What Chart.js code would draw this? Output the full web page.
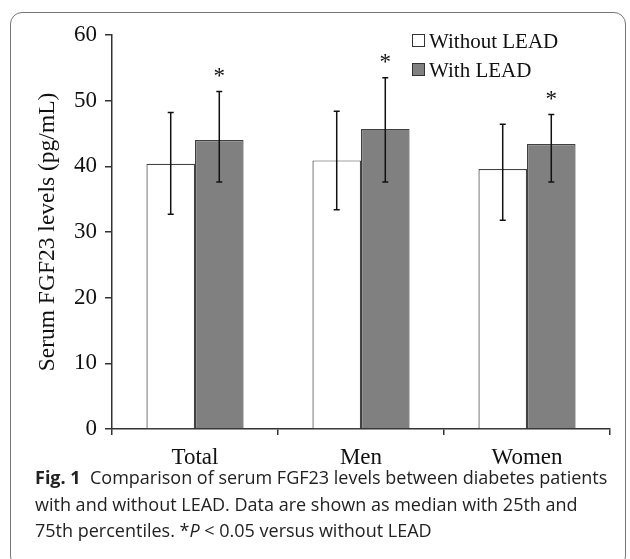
<!DOCTYPE html>
<html>
<head>
<meta charset="utf-8">
<script src="https://cdn.jsdelivr.net/npm/chart.js@4.4.1/dist/chart.umd.min.js"></script>
<style>
  body { margin: 0; background: #fff; }
  #wrap { position: relative; width: 630px; height: 559px; overflow: hidden; }
  #frame { position: absolute; left: 10px; top: 12px; width: 616px; height: 556px; border: 1.5px solid #777; border-radius: 12px; box-sizing: border-box; }
  #chartBox { position: absolute; left: 0; top: 0; width: 630px; height: 470px; }
  .legend { position: absolute; left: 412px; font-family: "Liberation Serif", serif; font-size: 21px; color: #111; }
  .legend span.box { display: inline-block; width: 11px; height: 11px; border: 1px solid #333; margin-right: 4px; vertical-align: 1px; }
  #caption { position: absolute; left: 35px; top: 464px; font-family: "Open Sans", sans-serif; font-size: 18px; line-height: 26.5px; color: #222; }
</style>
</head>
<body>
<div id="wrap">
  <div id="frame"></div>
  <div id="chartBox"><canvas id="myChart" width="630" height="470"></canvas></div>
  <div class="legend" style="top:29px"><span class="box" style="background:#fff"></span>Without LEAD</div>
  <div class="legend" style="top:58px"><span class="box" style="background:#808080"></span>With LEAD</div>
  <div id="caption"><b>Fig. 1</b>&nbsp; Comparison of serum FGF23 levels between diabetes patients<br>with and without LEAD. Data are shown as median with 25th and<br>75th percentiles. *<i>P</i> &lt; 0.05 versus without LEAD</div>
</div>
<script>
const categories = ["Total", "Men", "Women"];
const withoutLead = [40.4, 40.9, 39.6];
const withoutLow = [32.7, 33.4, 31.8];
const withoutHigh = [48.2, 48.4, 46.4];
const withLead = [44.0, 45.7, 43.4];
const withLow = [37.6, 37.6, 37.6];
const withHigh = [51.4, 53.5, 47.9];
const withSig = [true, true, true];

const serif = "'Liberation Serif', 'Times New Roman', serif";

// error bars + asterisks
const errorBars = {
  id: 'errorBars',
  afterDatasetsDraw(chart) {
    const ctx = chart.ctx;
    const y = chart.scales.y;
    chart.data.datasets.forEach((ds, i) => {
      const meta = chart.getDatasetMeta(i);
      meta.data.forEach((bar, j) => {
        const top = y.getPixelForValue(ds.high[j]);
        const bot = y.getPixelForValue(ds.low[j]);
        ctx.save();
        ctx.strokeStyle = '#111';
        ctx.lineWidth = 1.5;
        ctx.beginPath();
        ctx.moveTo(bar.x, top); ctx.lineTo(bar.x, bot);
        ctx.moveTo(bar.x - 3, top); ctx.lineTo(bar.x + 3, top);
        ctx.moveTo(bar.x - 3, bot); ctx.lineTo(bar.x + 3, bot);
        ctx.stroke();
        if (ds.sig && ds.sig[j]) {
          ctx.fillStyle = '#111';
          ctx.font = '23px ' + serif;
          ctx.textAlign = 'center';
          ctx.textBaseline = 'middle';
          ctx.fillText('*', bar.x, top - 15);
        }
        ctx.restore();
      });
    });
  }
};

new Chart(document.getElementById('myChart'), {
  type: 'bar',
  data: {
    labels: categories,
    datasets: [{
      label: 'Without LEAD',
      data: withoutLead,
      low: withoutLow,
      high: withoutHigh,
      backgroundColor: '#ffffff',
      borderColor: '#444',
      borderWidth: 1.2,
      categoryPercentage: 0.585,
      barPercentage: 1.0
    }, {
      label: 'With LEAD',
      data: withLead,
      low: withLow,
      high: withHigh,
      sig: withSig,
      backgroundColor: '#808080',
      borderColor: '#404040',
      borderWidth: 1.2,
      categoryPercentage: 0.585,
      barPercentage: 1.0
    }]
  },
  options: {
    responsive: false,
    animation: false,
    layout: { padding: { left: 0, right: 20, top: 35, bottom: 0 } },
    plugins: { legend: { display: false }, tooltip: { enabled: false } },
    scales: {
      x: {
        afterFit: s => { s.height = 41; },
        border: { color: '#333', width: 1.5 },
        grid: { offset: true, drawOnChartArea: false, color: '#333', tickLength: 6, lineWidth: 1.5 },
        ticks: { color: '#111', font: { family: serif, size: 23 }, padding: 9 }
      },
      y: {
        min: 0, max: 60,
        afterFit: s => { s.width = 112; },
        border: { color: '#333', width: 1.5 },
        grid: { drawOnChartArea: false, color: '#333', tickLength: 7, lineWidth: 1.5 },
        ticks: { stepSize: 10, color: '#111', font: { family: serif, size: 23 }, padding: 8 },
        title: { display: true, text: 'Serum FGF23 levels (pg/mL)', color: '#111', font: { family: serif, size: 23.5 }, padding: { top: 34, bottom: 0 } }
      }
    }
  },
  plugins: [errorBars]
});
</script>
</body>
</html>
